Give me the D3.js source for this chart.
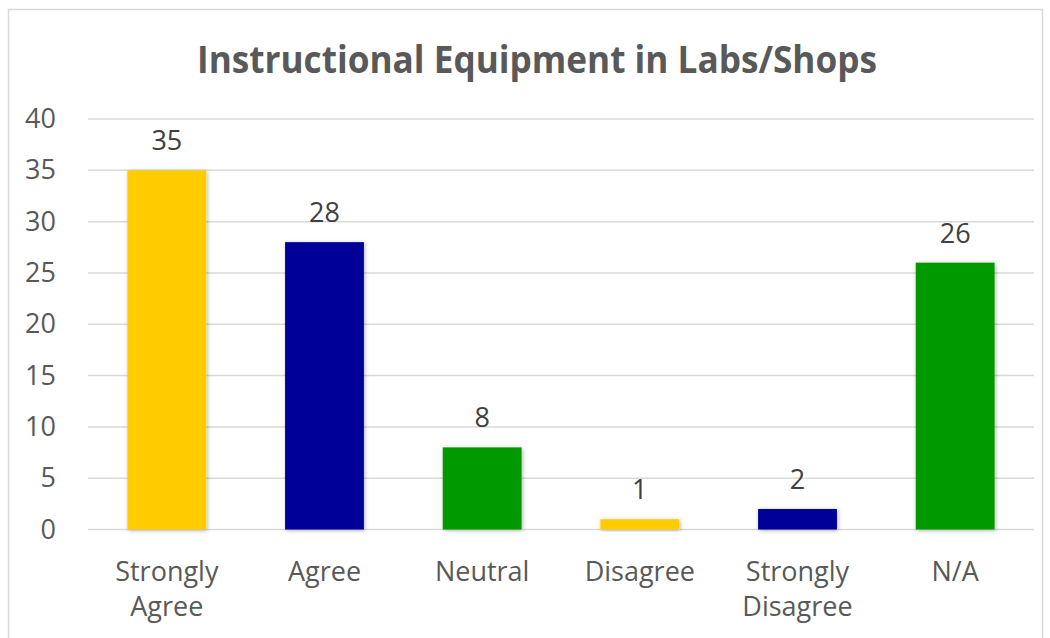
<!DOCTYPE html>
<html>
<head>
<meta charset="utf-8">
<script src="https://cdn.jsdelivr.net/npm/d3@7"></script>
<style>
  body { margin: 0; background: #fff; }
  svg { display: block; }
</style>
</head>
<body>
<svg width="1050" height="638"></svg>
<script>
const categories = ["Strongly Agree", "Agree", "Neutral", "Disagree", "Strongly Disagree", "N/A"];
const values = [35, 28, 8, 1, 2, 26];
const barColors = ["#FFCC00", "#000099", "#009900", "#FFCC00", "#000099", "#009900"];
const yTicks = [0, 5, 10, 15, 20, 25, 30, 35, 40];
const title = "Instructional Equipment in Labs/Shops";

const svg = d3.select("svg");
const width = +svg.attr("width");
const height = +svg.attr("height");
const margin = { top: 119, left: 88 };
const innerWidth = 1034 - margin.left;
const innerHeight = 529.5 - margin.top;
const font = "'Open Sans', sans-serif";

// chart border (bottom edge lies below the visible area)
svg.append("path")
  .attr("d", "M8.5," + height + "V9.5H1042.5V" + height)
  .attr("fill", "none").attr("stroke", "#d9d9d9").attr("stroke-width", 1.5);

const defs = svg.append("defs");
const f = defs.append("filter").attr("id", "shadow").attr("x", "-20%").attr("y", "-20%").attr("width", "140%").attr("height", "140%");
f.append("feDropShadow").attr("dx", 1).attr("dy", 1).attr("stdDeviation", 2).attr("flood-color", "#000").attr("flood-opacity", 0.3);

svg.append("text")
  .attr("x", 537).attr("y", 73)
  .attr("text-anchor", "middle")
  .attr("font-family", font)
  .attr("font-weight", "bold")
  .attr("font-size", 38)
  .attr("textLength", 680)
  .attr("lengthAdjust", "spacingAndGlyphs")
  .attr("fill", "#595959")
  .text(title);

const g = svg.append("g").attr("transform", "translate(" + margin.left + "," + margin.top + ")");

let xscale = d3.scaleBand().domain(categories).range([0, innerWidth]).paddingInner(0.5).paddingOuter(0.25);
let yscale = d3.scaleLinear().domain([0, 40]).range([innerHeight, 0]);

// gridlines
g.append("g").selectAll("line").data(yTicks).join("line")
  .attr("x1", 0).attr("x2", innerWidth)
  .attr("y1", d => yscale(d)).attr("y2", d => yscale(d))
  .attr("stroke", "#d9d9d9").attr("stroke-width", 1.5);

// y axis
let yaxis = d3.axisLeft(yscale).tickValues(yTicks).tickSize(0).tickPadding(32);
const ya = g.append("g").call(yaxis);
ya.select(".domain").remove();
ya.selectAll("text")
  .attr("font-family", font).attr("font-size", 27)
  .attr("fill", "#595959");

// bars
g.append("g").selectAll("rect").data(values).join("rect")
  .attr("x", (d, i) => xscale(categories[i]))
  .attr("y", d => yscale(d))
  .attr("width", xscale.bandwidth())
  .attr("height", d => innerHeight - yscale(d))
  .attr("fill", (d, i) => barColors[i])
  .attr("filter", "url(#shadow)");

// data labels
g.append("g").selectAll("text").data(values).join("text")
  .attr("x", (d, i) => xscale(categories[i]) + xscale.bandwidth() / 2)
  .attr("y", d => yscale(d) - 20)
  .attr("text-anchor", "middle")
  .attr("font-family", font).attr("font-size", 27)
  .attr("fill", "#404040")
  .text(d => d);

// x labels (wrapped)
const xl = g.append("g").selectAll("text").data(categories).join("text")
  .attr("x", d => xscale(d) + xscale.bandwidth() / 2)
  .attr("y", innerHeight + 51)
  .attr("text-anchor", "middle")
  .attr("font-family", font).attr("font-size", 27)
  .attr("fill", "#595959");
xl.each(function(d) {
  const words = d.split(" ");
  const t = d3.select(this);
  const x = t.attr("x");
  words.forEach((w, i) => {
    t.append("tspan").attr("x", x).attr("dy", i === 0 ? 0 : 35).text(w);
  });
});
</script>
</body>
</html>
